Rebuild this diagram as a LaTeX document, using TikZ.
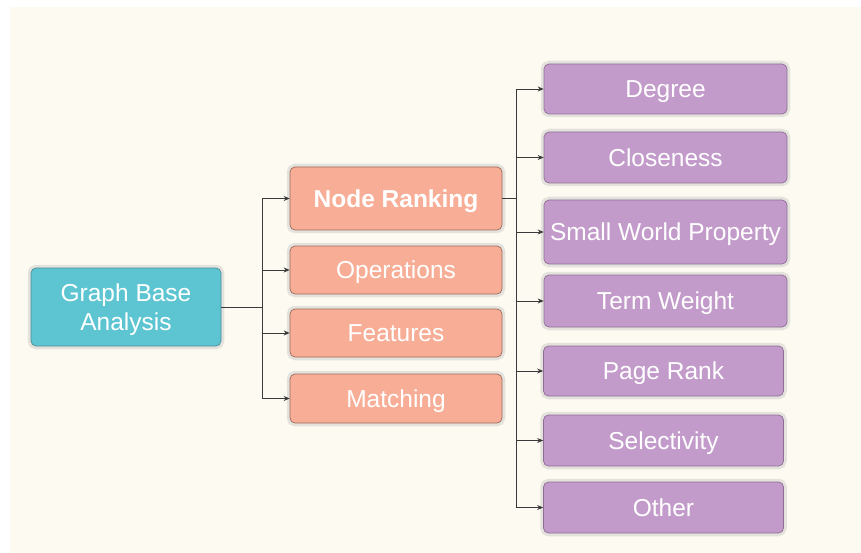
\documentclass[tikz,border=0pt]{standalone}
\usepackage{fontspec}
\setmainfont{Liberation Sans}
\usetikzlibrary{arrows.meta}
\definecolor{cream}{HTML}{FDFBF1}
\definecolor{halo}{HTML}{E4E2DC}
\definecolor{tealbox}{HTML}{5CC5D1}
\definecolor{tealedge}{HTML}{4E8E96}
\definecolor{salmonbox}{HTML}{F8AE96}
\definecolor{salmonedge}{HTML}{9E6A5C}
\definecolor{purplebox}{HTML}{C39BCB}
\definecolor{purpleedge}{HTML}{8E6E94}
\definecolor{linkcol}{HTML}{3A3A3A}
\tikzset{
  box/.style={rounded corners=5pt, line width=0.7pt, text=white,
    font=\fontsize{24.5}{29}\selectfont, align=center, inner sep=0pt,
    preaction={draw=halo, line width=6.5pt}},
  oneline/.style={text height=22.5pt, text depth=5pt},
  rootbox/.style={box, fill=tealbox, draw=tealedge},
  midbox/.style={box, oneline, fill=salmonbox, draw=salmonedge, minimum width=212pt},
  leafbox/.style={box, oneline, fill=purplebox, draw=purpleedge},
  link/.style={draw=linkcol, line width=0.8pt},
  arrowlink/.style={link, -{Stealth[length=6pt,width=5pt]}}
}
\begin{document}
\begin{tikzpicture}[x=1pt, y=-1pt]
  % page and cream canvas
  \fill[white] (0,0) rectangle (861,553);
  \fill[cream] (10,7) rectangle (861,553);
  \useasboundingbox (0,0) rectangle (861,553);

  % root
  \node[rootbox, minimum width=190pt, minimum height=78pt] (gba) at (126,307) {\rule{0pt}{24pt}Graph Base\\Analysis};

  % second level
  \node[midbox, minimum height=63pt, font=\fontsize{24.5}{29}\selectfont\bfseries] (nr) at (396,198.5) {Node Ranking};
  \node[midbox, minimum height=48pt] (op) at (396,270) {Operations};
  \node[midbox, minimum height=48pt] (fe) at (396,333) {Features};
  \node[midbox, minimum height=49pt] (ma) at (396,398.5) {Matching};

  % leaves of Node Ranking
  \node[leafbox, minimum width=243pt, minimum height=50pt] (deg) at (665.5,89) {Degree};
  \node[leafbox, minimum width=243pt, minimum height=51pt] (clo) at (665.5,157.5) {Closeness};
  \node[leafbox, minimum width=243pt, minimum height=64pt] (swp) at (665.5,232) {Small World Property};
  \node[leafbox, minimum width=243pt, minimum height=52pt] (tw) at (665.5,301) {Term Weight};
  \node[leafbox, minimum width=240pt, minimum height=50pt] (pr) at (663.5,371) {Page Rank};
  \node[leafbox, minimum width=240pt, minimum height=51pt] (sel) at (663.5,440.5) {Selectivity};
  \node[leafbox, minimum width=240pt, minimum height=51pt] (oth) at (663.5,507.5) {Other};

  % connectors from the root
  \coordinate (j1) at (262,307);
  \draw[link] (gba.east) -- (j1);
  \foreach \t in {nr,op,fe,ma}
    \draw[arrowlink] (j1) |- (\t.west);

  % connectors from Node Ranking
  \coordinate (j2) at (516,198.5);
  \draw[link] (nr.east) -- (j2);
  \foreach \t in {deg,clo,swp,tw,pr,sel,oth}
    \draw[arrowlink] (j2) |- (\t.west);
\end{tikzpicture}
\end{document}
